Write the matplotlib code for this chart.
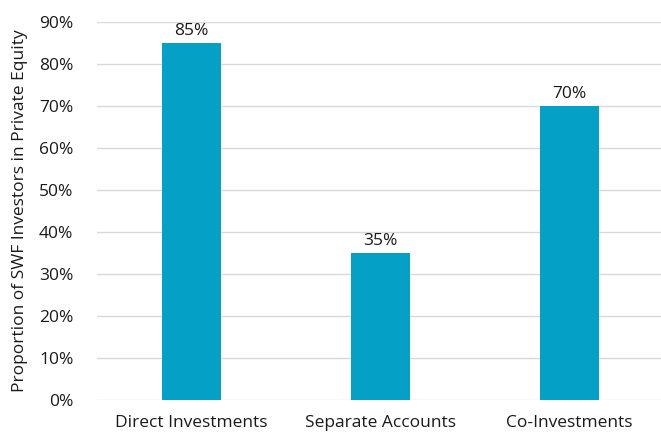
import matplotlib
matplotlib.use("Agg")
import matplotlib.pyplot as plt

categories = ["Direct Investments", "Separate Accounts", "Co-Investments"]
shares = [85, 35, 70]
y_ticks = [0, 10, 20, 30, 40, 50, 60, 70, 80, 90]

plt.rcParams["font.family"] = ["Open Sans", "DejaVu Sans"]

fig = plt.figure(figsize=(6.61, 4.32), dpi=100)
ax = fig.add_axes([97 / 661, 1 - 400 / 432, (664 - 97) / 661, (400 - 22) / 432])

fs = 12.5
x = range(len(categories))
ax.bar(x, shares, width=0.31, color="#05A0C6", zorder=3)
for xi, v in zip(x, shares):
    ax.text(xi, v + 0.9, f"{v}%", ha="center", va="bottom", fontsize=fs, color="#1a1a1a")

ax.set_xlim(-0.5, 2.5)
ax.set_ylim(0, 90)
ax.set_yticks(y_ticks)
ax.set_yticklabels([f"{t}%" for t in y_ticks])
ax.set_xticks(list(x))
ax.set_xticklabels(categories)
ax.tick_params(axis="both", length=0, labelsize=fs, colors="#1a1a1a")
ax.tick_params(axis="y", pad=17)
ax.tick_params(axis="x", pad=11)
ax.grid(axis="y", color="#d9d9d9", linewidth=1, zorder=0)
for s in ax.spines.values():
    s.set_visible(False)
ax.set_ylabel("Proportion of SWF Investors in Private Equity", fontsize=fs, color="#1a1a1a", labelpad=8)

fig.savefig("out.png", dpi=100)
